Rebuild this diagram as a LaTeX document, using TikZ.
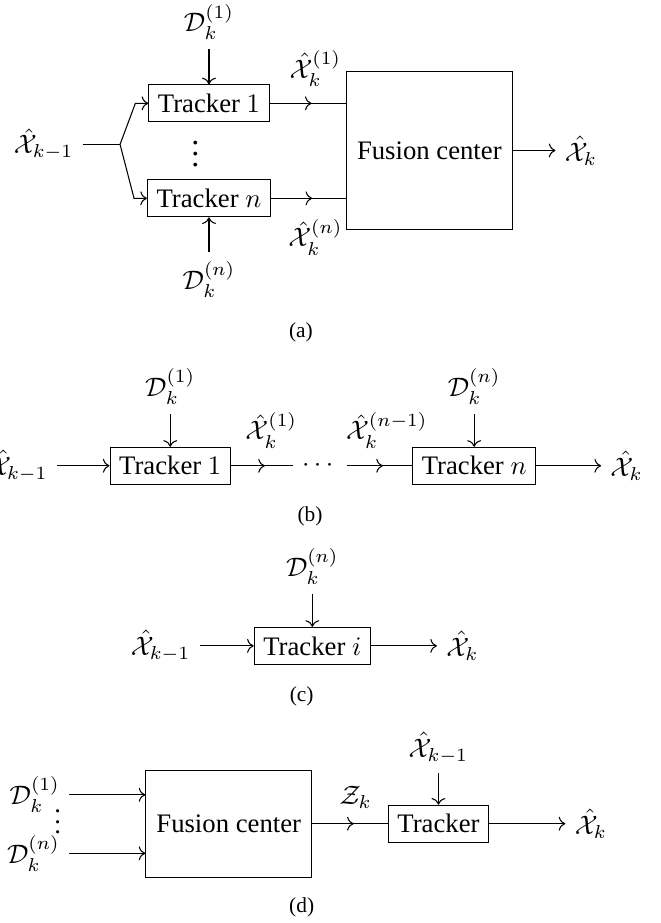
\documentclass[tikz,border=0pt]{standalone}
\usepackage{amsmath,amssymb}
\usepackage{fontspec}
\setmainfont{Liberation Serif}
\usetikzlibrary{
  arrows.meta,
  calc,
  positioning,
  decorations.markings
}
\tikzset{
  trk/.style={draw, inner sep=3.4pt},
  fus/.style={draw, minimum width=2.18cm, align=center},
  midarrow/.style={
    decoration={markings, mark=at position 0.55 with {\arrow{>}}},
    postaction={decorate}
  },
  subcap/.style={font=\footnotesize}
}

\begin{document}
\begin{tikzpicture}

\useasboundingbox (0,0) rectangle (8.686,-12.147);

% (a) 병렬 구조
\node[trk] (trkA1) at (2.75,-1.36) {Tracker $1$};
\node[trk] (trkAn) at (2.75,-2.61) {Tracker $n$};
\node[font=\large] (dotsA) at (2.57,-1.92) {$\vdots$};
\node[fus, minimum height=2.09cm] (fusA) at (5.65,-1.98) {Fusion center};
\node[anchor=east] (xAin) at (1.09,-1.90) {$\hat{\mathcal{X}}_{k-1}$};
\coordinate (brA) at (1.58,-1.90);
\node (dA1) at (2.75,-0.29) {$\mathcal{D}_k^{(1)}$};
\node (dAn) at (2.75,-3.68) {$\mathcal{D}_k^{(n)}$};
\node (xA1) at (4.15,-0.90) {$\hat{\mathcal{X}}_k^{(1)}$};
\node (xAn) at (4.15,-3.12) {$\hat{\mathcal{X}}_k^{(n)}$};
\node[anchor=west] (xAout) at (7.31,-1.98) {$\hat{\mathcal{X}}_k$};
\node[subcap] (capA) at (3.96,-4.37) {(a)};

\draw (xAin) -- (brA);
\draw[->] (brA) -- ([xshift=-0.17cm]trkA1.west) -- (trkA1.west);
\draw[->] (brA) -- ([xshift=-0.17cm]trkAn.west) -- (trkAn.west);
\draw[->] (dA1) -- (trkA1);
\draw[->] (dAn) -- (trkAn);
\draw[midarrow] (trkA1) -- (trkA1 -| fusA.west);
\draw[midarrow] (trkAn) -- (trkAn -| fusA.west);
\draw[->] (fusA) -- (xAout);

% (b) 직렬 구조
\node[anchor=east] (xBin) at (0.75,-6.13) {$\hat{\mathcal{X}}_{k-1}$};
\node[trk] (trkB1) at (2.24,-6.13) {Tracker $1$};
\node (dotsB) at (4.21,-6.13) {$\cdots$};
\node[trk] (trkBn) at (6.24,-6.13) {Tracker $n$};
\node (dB1) at (2.24,-5.09) {$\mathcal{D}_k^{(1)}$};
\node (dBn) at (6.24,-5.09) {$\mathcal{D}_k^{(n)}$};
\node (xB1) at (3.57,-5.66) {$\hat{\mathcal{X}}_k^{(1)}$};
\node (xBn) at (5.09,-5.66) {$\hat{\mathcal{X}}_k^{(n-1)}$};
\node[anchor=west] (xBout) at (7.91,-6.13) {$\hat{\mathcal{X}}_k$};
\node[subcap] (capB) at (4.08,-6.80) {(b)};

\draw[->] (xBin) -- (trkB1);
\draw[->] (dB1) -- (trkB1);
\draw[midarrow] (trkB1) -- (dotsB);
\draw[midarrow] (dotsB) -- (trkBn);
\draw[->] (dBn) -- (trkBn);
\draw[->] (trkBn) -- (xBout);

% (c) 단일 추적기
\node[trk] (trkC) at (4.11,-8.50) {Tracker $i$};
\node (dC) at (4.11,-7.45) {$\mathcal{D}_k^{(n)}$};
\node[anchor=east] (xCin) at (2.63,-8.50) {$\hat{\mathcal{X}}_{k-1}$};
\node[anchor=west] (xCout) at (5.75,-8.50) {$\hat{\mathcal{X}}_k$};
\node[subcap] (capC) at (3.97,-9.17) {(c)};

\draw[->] (xCin) -- (trkC);
\draw[->] (dC) -- (trkC);
\draw[->] (trkC) -- (xCout);

% (d) 측정 융합 후 추적
\node[fus, minimum height=1.41cm] (fusD) at (3.01,-10.84) {Fusion center};
\node[anchor=east] (dD1) at (0.91,-10.46) {$\mathcal{D}_k^{(1)}$};
\node[anchor=east] (dDn) at (0.91,-11.23) {$\mathcal{D}_k^{(n)}$};
\node (dotsD) at (0.76,-10.71) {$\vdots$};
\node[trk] (trkD) at (5.77,-10.84) {Tracker};
\node (xDin) at (5.77,-9.84) {$\hat{\mathcal{X}}_{k-1}$};
\node (zD) at (4.68,-10.49) {$\mathcal{Z}_k$};
\node[anchor=west] (xDout) at (7.44,-10.84) {$\hat{\mathcal{X}}_k$};
\node[subcap] (capD) at (3.97,-11.94) {(d)};

\draw[->] (dD1) -- (dD1 -| fusD.west);
\draw[->] (dDn) -- (dDn -| fusD.west);
\draw[midarrow] (fusD) -- (trkD);
\draw[->] (xDin) -- (trkD);
\draw[->] (trkD) -- (xDout);

\end{tikzpicture}
\end{document}
